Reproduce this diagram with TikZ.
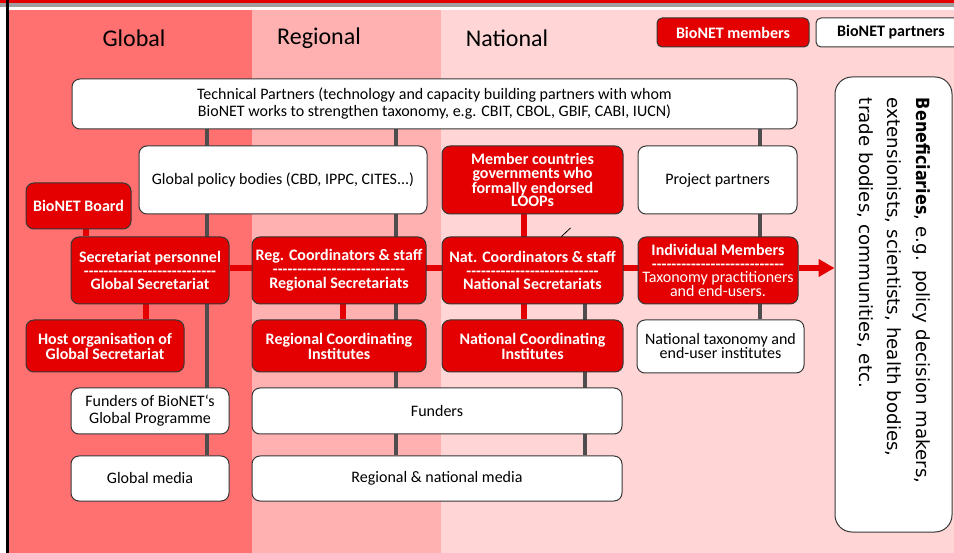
\documentclass[tikz,border=0pt]{standalone}
\usepackage{fontspec}
\setmainfont{Carlito}
\newfontfamily\benfont{DejaVu Sans}
\usetikzlibrary{arrows.meta,backgrounds}
\definecolor{bred}{RGB}{228,0,0}
\definecolor{bandG}{RGB}{255,112,112}
\definecolor{bandR}{RGB}{255,176,176}
\definecolor{bandN}{RGB}{255,213,213}
\definecolor{conn}{RGB}{77,77,77}
\definecolor{boxline}{RGB}{55,55,55}
\newcommand\drow{-{}-{}-{}-{}-{}-{}-{}-{}-{}-{}-{}-{}-{}-{}-{}-{}-{}-{}-{}-{}-{}-{}-{}-{}-{}-{}-}
\begin{document}
\begin{tikzpicture}[x=1pt,y=-1pt,
  box/.style={rectangle, rounded corners=8pt, draw=boxline, line width=1pt, inner sep=0pt, align=center, font=\fontsize{16}{17}\selectfont},
  mbox/.style={box, fill=bred, text=white, font=\bfseries\fontsize{16}{13.9}\selectfont},
  pbox/.style={box, fill=white, text=black},
  gline/.style={draw=conn, line width=3.5pt},
  rline/.style={draw=bred, line width=6pt},
  hdr/.style={font=\fontsize{24}{28}\selectfont, inner sep=0pt}
]
\useasboundingbox (0,0) rectangle (954,553);
\begin{scope}[on background layer]
\fill[white] (0,0) rectangle (954,553);
\fill[bred] (0,0) rectangle (954,3);
\fill[gray!75] (0,3) rectangle (954,7);
\fill[bandG] (8.5,10) rectangle (252,553);
\fill[bandR] (252,10) rectangle (441,553);
\fill[bandN] (441,10) rectangle (954,553);
\fill[black] (5.5,0) rectangle (8.5,553);
\end{scope}

\node[hdr] (hg) at (134,38) {Global};
\node[hdr] (hr) at (319,38) {Regional};
\node[hdr] (hn) at (507,38) {National};

\node[mbox, minimum width=152pt, minimum height=29pt, rounded corners=5pt] (legm) at (733,32.5) {BioNET members};
\node[pbox, minimum width=150pt, minimum height=29pt, rounded corners=5pt, font=\bfseries\fontsize{16}{17}\selectfont] (legp) at (891,32.5) {BioNET partners};

\node[pbox, minimum width=725pt, minimum height=50pt] (tp) at (434.5,104) {Technical Partners (technology and capacity building partners with whom\\BioNET works to strengthen taxonomy, e.g. CBIT, CBOL, GBIF, CABI, IUCN)};
\node[pbox, minimum width=288pt, minimum height=68pt] (pol) at (283,180) {Global policy bodies (CBD, IPPC, CITES...)};
\node[mbox, minimum width=181pt, minimum height=68pt] (mem) at (532.5,180) {Member countries\\governments who\\formally endorsed\\LOOPs};
\node[pbox, minimum width=159pt, minimum height=68pt] (proj) at (717.5,180) {Project partners};
\node[mbox, minimum width=105pt, minimum height=46pt] (board) at (78.5,206) {BioNET Board};
\node[mbox, minimum width=158pt, minimum height=67pt] (sec) at (150,270.5) {Secretariat personnel\\\drow\\Global Secretariat};
\node[mbox, minimum width=174pt, minimum height=67pt] (reg) at (339,270.5) {Reg. Coordinators \& staff\\\drow\\Regional Secretariats};
\node[mbox, minimum width=181pt, minimum height=67pt] (nat) at (532.5,270.5) {Nat. Coordinators \& staff\\\drow\\National Secretariats};
\node[mbox, minimum width=160pt, minimum height=67pt] (ind) at (718,270.5) {Individual Members\\\drow\\\mdseries Taxonomy practitioners\\\mdseries and end-users.};
\node[mbox, minimum width=158pt, minimum height=52pt] (host) at (105,346) {Host organisation of\\Global Secretariat};
\node[mbox, minimum width=174pt, minimum height=52pt] (rinst) at (339,346) {Regional Coordinating\\Institutes};
\node[mbox, minimum width=181pt, minimum height=52pt] (ninst) at (532.5,346) {National Coordinating\\Institutes};
\node[pbox, minimum width=167pt, minimum height=53pt, font=\fontsize{16}{14}\selectfont] (ntax) at (720.5,346.5) {National taxonomy and\\end-user institutes};
\node[pbox, minimum width=158pt, minimum height=46pt] (fglob) at (150,411) {Funders of BioNET‘s\\Global Programme};
\node[pbox, minimum width=370pt, minimum height=46pt] (fund) at (437,411) {Funders};
\node[pbox, minimum width=158pt, minimum height=45pt] (gmed) at (150,478.5) {Global media};
\node[pbox, minimum width=370pt, minimum height=45pt] (rmed) at (437,478.5) {Regional \& national media};
\node[pbox, rotate=-90, rounded corners=17pt, minimum width=455pt, minimum height=117pt, text width=413pt, align=left, font=\benfont\fontsize{18.2}{28.5}\selectfont] (benef) at (893.5,304.5) {\scalebox{0.88}[1]{\textbf{Beneficiaries}}, e.g. policy decision makers,\\extensionists, scientists, health bodies,\\trade bodies, communities, etc.};

\coordinate (xA) at (207,0);
\coordinate (xB) at (396,0);
\coordinate (xC) at (585,0);
\coordinate (xD) at (760,0);
\coordinate (xE) at (86,0);
\coordinate (xF) at (146,0);
\coordinate (xG) at (343,0);
\coordinate (xH) at (524,0);
\coordinate (hy) at (0,268);

\begin{scope}[on background layer]
\draw[gline] (tp.south -| xA) -- (gmed.north -| xA);
\draw[gline] (tp.south -| xB) -- (rmed.north -| xB);
\draw[gline] (nat.south -| xC) -- (rmed.north -| xC);
\draw[gline] (tp.south -| xD) -- (ntax.north -| xD);
\draw[rline] (board.south -| xE) -- (sec.north -| xE);
\draw[rline] (sec.south -| xF) -- (host.north -| xF);
\draw[rline] (reg.south -| xG) -- (rinst.north -| xG);
\draw[rline] (mem.south -| xH) -- (ninst.north -| xH);
\draw[rline] (sec.east |- hy) -- (ind.west |- hy);
\draw[rline, -{Triangle[length=16pt,width=17pt]}] (ind.east |- hy) -- (benef.south |- hy);
\end{scope}

\coordinate (s1) at (561.5,236.5);
\coordinate (s2) at (570.5,228);
\draw[black, line width=0.8pt] (s1) -- (s2);
\end{tikzpicture}
\end{document}
